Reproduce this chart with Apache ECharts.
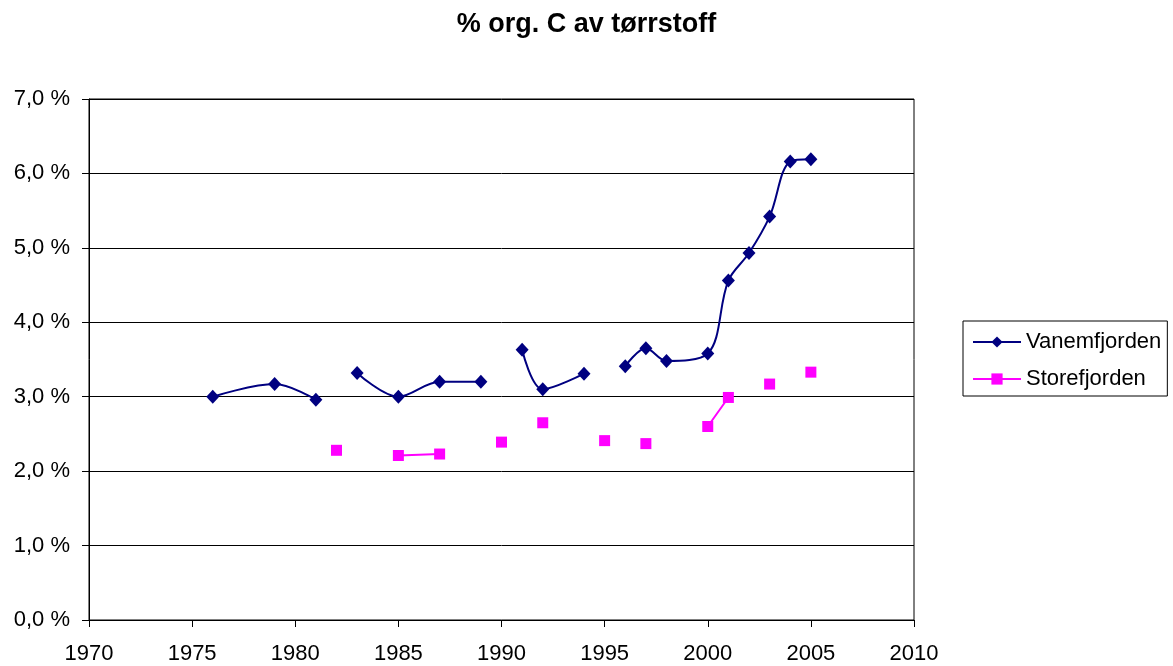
<!DOCTYPE html>
<html>
<head>
<meta charset="utf-8">
<script src="https://cdn.jsdelivr.net/npm/echarts@6/dist/echarts.min.js"></script>
<style>
  html, body { margin: 0; padding: 0; background: #fff; }
  #main { width: 1173px; height: 666px; }
</style>
</head>
<body>
<div id="main"></div>
<script>
// år i tabellen (tomme celler gir brudd i linjene)
const years = [1976, 1979, 1981, 1982, 1983, 1985, 1987, 1989, 1990, 1991, 1992,
    1994, 1995, 1996, 1997, 1998, 2000, 2001, 2002, 2003, 2004, 2005];
const vanemfjorden = [3.00, 3.17, 2.96, null, 3.32, 3.00, 3.20, 3.20, null, 3.63, 3.10,
    3.31, null, 3.41, 3.65, 3.48, 3.58, 4.56, 4.93, 5.42, 6.16, 6.19];
const storefjorden = [null, null, null, 2.28, null, 2.21, 2.23, null, 2.39, null, 2.65,
    null, 2.41, null, 2.37, null, 2.60, 2.99, null, 3.17, null, 3.33];
const xTicks = { min: 1970, max: 2010, interval: 5 };
const yTicks = { min: 0, max: 7, interval: 1 };

const font = 'Liberation Sans, Arial, sans-serif';

function pairs(vals) {
    return years.map((y, i) => [y, vals[i]]);
}

const option = {
    animation: false,
    title: {
        text: '% org. C av tørrstoff',
        left: 'center',
        top: 6,
        textStyle: { fontFamily: font, fontSize: 27, fontWeight: 'bold', color: '#000' }
    },
    legend: {
        orient: 'vertical',
        left: 963,
        top: 321,
        padding: [10, 6, 6, 9],
        itemWidth: 48,
        itemHeight: 14,
        itemGap: 15,
        borderColor: '#000',
        borderWidth: 1,
        textStyle: { fontFamily: font, fontSize: 22, color: '#000', lineHeight: 22 },
        data: ['Vanemfjorden', 'Storefjorden']
    },
    grid: {
        left: 89, right: 259, top: 99, bottom: 46,
        show: true, borderColor: '#000', borderWidth: 1
    },
    xAxis: {
        type: 'value',
        min: xTicks.min, max: xTicks.max, interval: xTicks.interval,
        axisLine: { lineStyle: { color: '#000', width: 1 } },
        axisTick: { show: true, length: 7, lineStyle: { color: '#000' } },
        splitLine: { show: false },
        axisLabel: {
            fontFamily: font, fontSize: 22, color: '#000', margin: 23,
            formatter: v => String(v)
        }
    },
    yAxis: {
        type: 'value',
        min: yTicks.min, max: yTicks.max, interval: yTicks.interval,
        axisLine: { show: true, lineStyle: { color: '#000', width: 1 } },
        axisTick: { show: true, length: 7, lineStyle: { color: '#000' } },
        splitLine: { show: true, lineStyle: { color: '#000', width: 1 } },
        axisLabel: {
            fontFamily: font, fontSize: 22, color: '#000', margin: 19,
            formatter: v => v.toFixed(1).replace('.', ',') + ' %'
        }
    },
    series: [
        {
            name: 'Vanemfjorden',
            type: 'line',
            smooth: 0.35,
            connectNulls: false,
            symbol: 'diamond',
            symbolSize: [13, 14],
            color: '#000080',
            lineStyle: { color: '#000080', width: 2 },
            itemStyle: { color: '#000080' },
            data: pairs(vanemfjorden)
        },
        {
            name: 'Storefjorden',
            type: 'line',
            smooth: 0.35,
            connectNulls: false,
            symbol: 'rect',
            symbolSize: 11,
            color: '#FF00FF',
            lineStyle: { color: '#FF00FF', width: 2 },
            itemStyle: { color: '#FF00FF' },
            data: pairs(storefjorden)
        }
    ]
};

const chart = echarts.init(document.getElementById('main'));
chart.setOption(option);
</script>
</body>
</html>
